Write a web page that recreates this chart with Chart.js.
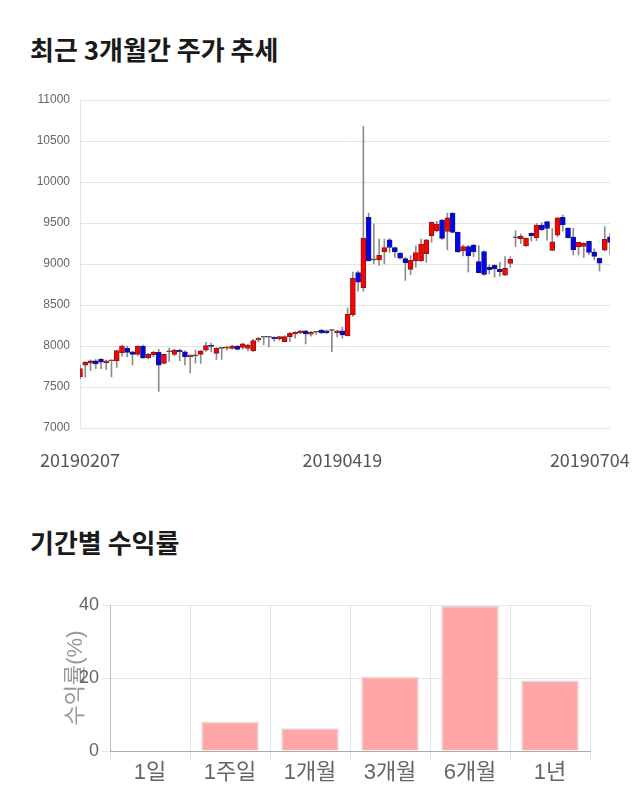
<!DOCTYPE html>
<html><head><meta charset="utf-8">
<script src="https://cdn.jsdelivr.net/npm/chart.js@4"></script>
<style>
html,body{margin:0;padding:0;background:#fff;width:640px;height:810px;overflow:hidden;font-family:'Noto Sans CJK KR',sans-serif;}
.title{position:absolute;left:30px;font-size:26px;font-weight:bold;color:#1a1a1a;line-height:1;white-space:nowrap;}
#t1{top:36px}
#t2{top:529px}
#w1{position:absolute;left:0;top:90px;width:640px;height:390px}
#w2{position:absolute;left:0;top:590px;width:640px;height:220px}
</style></head><body>
<div class="title" id="t1">최근 3개월간 주가 추세</div>
<div class="title" id="t2">기간별 수익률</div>
<div id="w1"><canvas id="c1" width="640" height="390"></canvas></div>
<div id="w2"><canvas id="c2" width="640" height="220"></canvas></div>
<script>
// ---- price chart data ----
const dates = [
 '20190207','20190208','20190211','20190212','20190213','20190214','20190215','20190218','20190219','20190220',
 '20190221','20190222','20190225','20190226','20190227','20190228','20190304','20190305','20190306','20190307',
 '20190308','20190311','20190312','20190313','20190314','20190315','20190318','20190319','20190320','20190321',
 '20190322','20190325','20190326','20190327','20190328','20190329','20190401','20190402','20190403','20190404',
 '20190405','20190408','20190409','20190410','20190411','20190412','20190415','20190416','20190417','20190418',
 '20190419','20190422','20190423','20190424','20190425','20190426','20190429','20190430','20190502','20190503',
 '20190507','20190508','20190509','20190510','20190513','20190514','20190515','20190516','20190517','20190520',
 '20190521','20190522','20190523','20190524','20190527','20190528','20190529','20190530','20190531','20190603',
 '20190604','20190605','20190607','20190610','20190611','20190612','20190613','20190614','20190617','20190618',
 '20190619','20190620','20190621','20190624','20190625','20190626','20190627','20190628','20190701','20190702',
 '20190703','20190704'
];
const openP = [
 7625,7765,7790,7820,7836,7795,7820,7820,7918,7971,
 7930,7898,8000,7856,7890,7922,7787,7930,7898,7950,
 7930,7869,7880,7898,7950,8004,7910,7971,7975,7971,
 8000,7984,7971,7943,8074,8107,8107,8107,8090,8053,
 8115,8148,8164,8184,8143,8168,8193,8184,8189,8164,
 8184,8127,8381,8894,8709,9570,9050,9050,9148,9296,
 9201,9132,9066,8935,9037,9037,9127,9345,9406,9537,
 9398,9620,9386,9160,9213,9230,9029,9152,8960,8984,
 8935,8865,9008,9320,9308,9222,9373,9320,9476,9517,
 9165,9353,9570,9439,9328,9209,9214,9275,9144,9070,
 9168,9332
];
const highP = [
 7766,7810,7830,7836,7850,7830,7830,7950,8010,8000,
 7935,8005,8010,7910,7935,7959,7900,7975,7960,7960,
 7940,7895,7950,7945,8045,8035,7980,7975,8000,8010,
 8010,8035,8020,8080,8105,8110,8110,8115,8120,8125,
 8165,8175,8190,8190,8180,8180,8200,8195,8200,8190,
 8230,8463,8902,8914,10677,9620,9488,9304,9304,9310,
 9205,9140,9080,9100,9222,9304,9300,9515,9520,9545,
 9620,9625,9390,9230,9230,9240,9222,9160,8990,8990,
 9020,9090,9090,9406,9365,9320,9380,9495,9505,9520,
 9435,9570,9600,9445,9435,9265,9260,9280,9185,9075,
 9455,9370
];
const lowP = [
 7602,7620,7700,7725,7725,7713,7623,7738,7877,7869,
 7766,7880,7850,7840,7870,7447,7780,7810,7880,7820,
 7766,7672,7790,7787,7935,7930,7836,7836,7950,7960,
 7950,7960,7940,7930,8050,8015,7990,8060,8070,8050,
 8053,8095,8150,8025,8120,8140,8150,8150,7930,8110,
 8095,8120,8360,8668,8668,9037,9000,8984,9000,9140,
 9080,9060,8800,8870,8960,9030,9020,9265,9390,9300,
 9173,9380,9140,9100,8902,9090,8890,8860,8880,8840,
 8850,8860,8960,9213,9250,9215,9280,9285,9410,9290,
 9160,9330,9400,9315,9110,9110,9080,9110,9050,8915,
 9160,9120
];
const closeP = [
 7725,7800,7820,7780,7803,7820,7820,7943,8000,7922,
 7898,8000,7856,7898,7922,7766,7898,7930,7950,7930,
 7869,7890,7880,7940,8004,7996,7971,7971,7985,8000,
 7959,8025,8012,8066,8094,8107,8107,8090,8115,8115,
 8156,8168,8184,8148,8168,8168,8164,8164,8189,8184,
 8135,8389,8824,8779,9316,9037,9050,9107,9201,9201,
 9148,9070,9017,9045,9140,9242,9296,9509,9488,9312,
 9562,9386,9148,9213,9099,9148,8894,8873,8930,8943,
 8906,8947,9058,9320,9337,9312,9345,9476,9419,9435,
 9271,9562,9476,9320,9173,9263,9255,9140,9091,9009,
 9300,9263
];
const shownDates = ['20190207','20190419','20190704'];

// ---- returns chart data ----
const periods = ['1일','1주일','1개월','3개월','6개월','1년'];
const returns = [0, 8.0, 6.2, 20.3, 39.8, 19.3];
const returnTicks = [0, 20, 40];

const RED = '#ff0000', BLUE = '#0000ff';
const bodies = dates.map((d,i)=>[openP[i], closeP[i]]);
const wicks = dates.map((d,i)=>[lowP[i], highP[i]]);
const bodyFill = dates.map((d,i)=> closeP[i]>openP[i] ? RED : (closeP[i]<openP[i] ? BLUE : '#444'));
const bodyLine = dates.map((d,i)=> closeP[i]>openP[i] ? '#8a1a1a' : (closeP[i]<openP[i] ? '#1a1a6a' : '#444'));

new Chart(document.getElementById('c1'), {
  type:'bar',
  data:{labels:dates, datasets:[
    {data:wicks, backgroundColor:'#8c8c8c', barThickness:1, grouped:false, order:2},
    {data:bodies, backgroundColor:bodyFill, borderColor:bodyLine, borderWidth:1, borderSkipped:false,
     barThickness:5, minBarLength:1, grouped:false, order:1}
  ]},
  options:{
    responsive:false, animation:false,
    plugins:{legend:{display:false}, tooltip:{enabled:false}},
    layout:{padding:{left:0,right:30,top:10,bottom:0}},
    scales:{
      x:{offset:false, grid:{display:false}, border:{display:false},
         ticks:{autoSkip:false, maxRotation:0, minRotation:0, padding:13, color:'#555',
                font:{family:"'Noto Sans CJK KR',sans-serif", size:18},
                callback:function(v,i){ const l=dates[i]; if(!shownDates.includes(l)) return ''; return i===dates.length-1 ? l+'          ' : l; }},
         afterFit:s=>{s.paddingRight=0; s.paddingLeft=0; s.height=52;}},
      y:{min:7000, max:11000,
         ticks:{stepSize:500, padding:10, color:'#666', font:{family:"'Liberation Sans',sans-serif", size:12},
                callback:v=>String(v)},
         grid:{color:'#e4e4e4', drawTicks:false}, border:{color:'#e4e4e4'},
         afterFit:s=>{s.width=80; s.paddingTop=0; s.paddingBottom=0;}}
    }
  }
});

new Chart(document.getElementById('c2'), {
  type:'bar',
  data:{labels:periods, datasets:[
    {data:returns, backgroundColor:'#ffa6a6', borderColor:'#e2d6d6', borderWidth:1.5}
  ]},
  options:{
    responsive:false, animation:false,
    plugins:{legend:{display:false}, tooltip:{enabled:false}},
    layout:{padding:{left:0,right:50,top:15,bottom:0}},
    scales:{
      x:{grid:{color:'#e6e6e6', tickLength:9}, border:{color:'#aaa'},
         ticks:{color:'#666', padding:0, font:{family:"'Liberation Sans','Noto Sans CJK KR',sans-serif", size:22}},
         afterFit:s=>{s.height=59;}},
      y:{min:0, max:40,
         afterBuildTicks:s=>{s.ticks = returnTicks.map(v=>({value:v}));},
         ticks:{color:'#666', padding:3, font:{family:"'Liberation Sans','Noto Sans CJK KR',sans-serif", size:18}},
         grid:{color:'#e6e6e6', tickLength:8}, border:{color:'#bbb'},
         title:{display:true, text:'수익률(%)', color:'#999', padding:{top:63,bottom:0},
                font:{family:"'Liberation Sans','Noto Sans CJK KR',sans-serif", size:22}},
         afterFit:s=>{s.width=110;}}
    }
  }
});
</script>
</body></html>
